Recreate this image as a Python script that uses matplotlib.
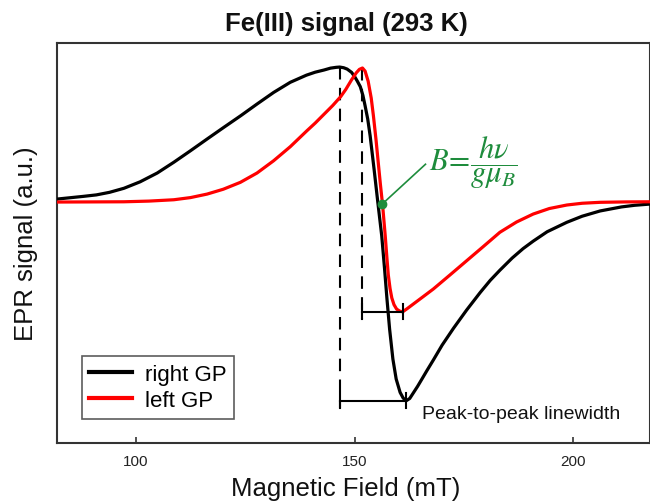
import matplotlib
matplotlib.use("Agg")
import matplotlib.pyplot as plt

plt.rcParams['font.family'] = ['Liberation Sans', 'DejaVu Sans']
plt.rcParams['mathtext.fontset'] = 'stix'

# Magnetic field (mT) and EPR signal (a.u.)
right_field = [82.0, 85.0, 88.0, 91.0, 94.0, 97.3, 101.0, 104.9, 108.7, 112.5,
               116.3, 120.1, 124.0, 127.7, 131.5, 135.3, 139.0, 141.0, 143.0, 144.5,
               145.8, 146.6, 147.5, 148.3, 149.3, 150.0, 150.6, 151.3, 151.9, 152.4,
               153.0, 153.55, 154.45, 155.3, 156.2, 156.85, 157.4, 158.0, 158.75, 159.5,
               160.4, 161.1, 161.8, 162.6, 163.4, 164.4, 165.5, 166.5, 168.0, 170.0,
               172.6, 175.6, 178.7, 181.0, 183.2, 186.0, 188.5, 190.8, 194.0, 198.5,
               202.0, 206.1, 211.0, 214.0, 217.5]
right_signal = [0.022, 0.032, 0.042, 0.053, 0.072, 0.102, 0.150, 0.215, 0.295, 0.380,
                0.467, 0.553, 0.640, 0.726, 0.812, 0.887, 0.940, 0.962, 0.978, 0.992,
                0.998, 1.000, 0.995, 0.985, 0.961, 0.930, 0.897, 0.855, 0.790, 0.713,
                0.615, 0.491, 0.244, 0.000, -0.250, -0.496, -0.719, -0.941, -1.163, -1.311,
                -1.410, -1.452, -1.472, -1.455, -1.415, -1.365, -1.305, -1.250, -1.170, -1.060,
                -0.935, -0.800, -0.670, -0.580, -0.505, -0.415, -0.345, -0.290, -0.220, -0.150,
                -0.105, -0.066, -0.036, -0.024, -0.015]

left_field = [82.0, 97.3, 103.0, 108.7, 112.5, 116.3, 120.0, 123.9, 127.7, 131.5,
              135.3, 139.1, 141.0, 143.0, 145.0, 146.8, 148.0, 149.3, 150.4, 151.1,
              151.8, 152.4, 153.1, 153.8, 154.3, 154.9, 155.4, 155.9, 156.4, 157.0,
              157.4, 157.7, 158.1, 158.5, 159.0, 159.6, 160.3, 161.0, 162.0, 163.4,
              165.5, 168.0, 171.8, 175.6, 179.4, 183.2, 187.0, 190.8, 194.5, 198.5,
              202.0, 206.1, 212.0, 217.5]
left_signal = [0.000, 0.002, 0.007, 0.017, 0.033, 0.059, 0.095, 0.146, 0.215, 0.306,
               0.410, 0.528, 0.585, 0.650, 0.715, 0.780, 0.835, 0.905, 0.958, 0.983,
               0.993, 0.970, 0.895, 0.770, 0.639, 0.460, 0.294, 0.130, -0.022, -0.250,
               -0.420, -0.540, -0.640, -0.710, -0.760, -0.793, -0.808, -0.813, -0.790, -0.756,
               -0.705, -0.644, -0.540, -0.435, -0.330, -0.224, -0.148, -0.089, -0.048, -0.022,
               -0.009, -0.002, 0.001, 0.002]

series_labels = ['right GP', 'left GP']
series_colors = ['black', 'red']

peak_right = (146.6, 1.000)
peak_left = (151.8, 0.993)
trough_right = (161.8, -1.472)
trough_left = (161.0, -0.813)
resonance = (156.3, -0.015)

fig = plt.figure(figsize=(6.5, 5.02), dpi=100)
ax = fig.add_axes([57/650, 58/502, 593/650, 399.7/502])

ax.plot(right_field, right_signal, color=series_colors[0], lw=2.3, label=series_labels[0],
        solid_joinstyle='round', zorder=3)
ax.plot(left_field, left_signal, color=series_colors[1], lw=2.3, label=series_labels[1],
        solid_joinstyle='round', zorder=4)

# dashed guides from peaks down to linewidth bars
cap = 0.055
ax.plot([peak_right[0], peak_right[0]], [peak_right[1], trough_right[1] - cap],
        color='black', lw=1.5, dashes=(6, 4), zorder=2)
ax.plot([peak_left[0], peak_left[0]], [peak_left[1], trough_left[1] - cap],
        color='black', lw=1.5, dashes=(6, 4), zorder=2)

# peak-to-peak bars
for (x0, _), (x1, yb) in [(peak_right, trough_right), (peak_left, trough_left)]:
    ax.plot([x0, x1], [yb, yb], color='black', lw=1.5, zorder=5)
    ax.plot([x0, x0], [yb - cap, yb + cap], color='black', lw=1.5, zorder=5)
    ax.plot([x1, x1], [yb - cap, yb + cap], color='black', lw=1.5, zorder=5)

ax.text(165.4, -1.57, 'Peak-to-peak linewidth', fontsize=14, va='center', ha='left',
        color='#111111')

green = '#1e8c3c'
ax.plot([resonance[0], 166.2], [resonance[1], 0.28], color=green, lw=1.2, zorder=6)
ax.plot([resonance[0]], [resonance[1]], 'o', color=green, ms=6, zorder=7)
ax.text(167.0, 0.30, r'$B\!=\!\dfrac{h\nu}{g\mu_B}$', color=green, fontsize=22,
        va='center', ha='left')

ax.set_xlim(82.0, 217.5)
ax.set_ylim(-1.785, 1.176)
ax.set_xticks([100, 150, 200])
ax.set_yticks([])
ax.tick_params(axis='x', direction='in', length=4, width=1.2, colors='#333333',
               labelsize=11, labelcolor='#222222', pad=8)
for s in ax.spines.values():
    s.set_color('#333333')
    s.set_linewidth(1.5)

ax.set_xlabel('Magnetic Field (mT)', fontsize=18.5, color='#111111', labelpad=6)
ax.xaxis.label.set_x((346 - 57) / 593)
ax.set_ylabel('EPR signal (a.u.)', fontsize=18.5, color='#111111', labelpad=14)

fig.text(346/650, 1 - 24/502, 'Fe(III) signal (293 K)', fontsize=18.5, fontweight='bold',
         ha='center', va='center', color='#111111')

leg = ax.legend(loc='lower left', bbox_to_anchor=((81.7 - 57) / 593, (444 - 420) / 399.7),
                fontsize=16, frameon=True, fancybox=False, borderpad=0.35,
                handlelength=1.9, handletextpad=0.6, labelspacing=0.25, borderaxespad=0)
leg.get_frame().set_edgecolor('#333333')
leg.get_frame().set_linewidth(1.2)
for h in leg.get_lines():
    h.set_linewidth(3)

fig.savefig('out.png', dpi=100)
